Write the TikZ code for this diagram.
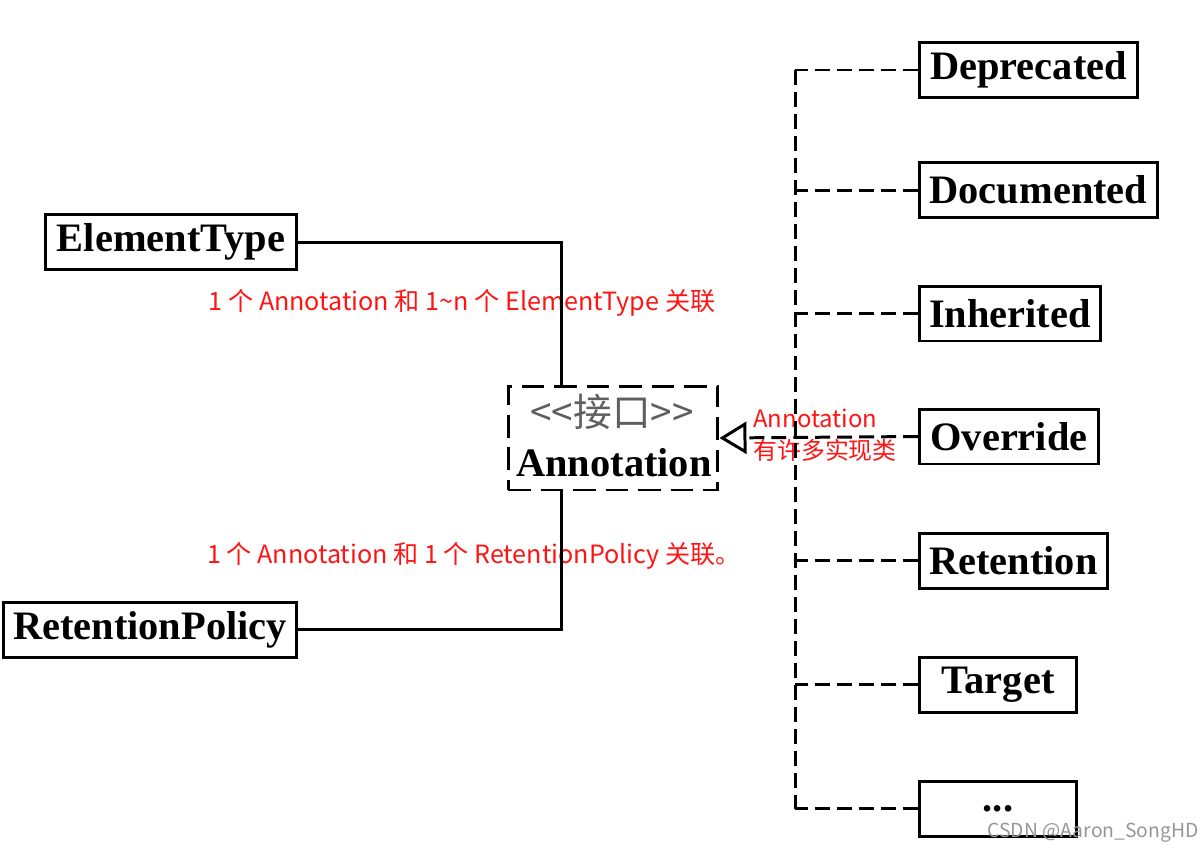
\documentclass[tikz,border=0pt]{standalone}
\usepackage{fontspec}
\setmainfont{Liberation Serif}
\newfontfamily\cjk{Noto Sans CJK SC}
\usetikzlibrary{arrows.meta}
\definecolor{notered}{RGB}{255,20,20}
\definecolor{stereogray}{RGB}{95,95,95}
\definecolor{markgray}{RGB}{150,150,150}

\begin{document}
\begin{tikzpicture}[x=0.02cm, y=-0.02cm,
    classbox/.style={draw, line width=1.7pt, minimum height=1.1cm, inner sep=0pt,
      font=\fontsize{23}{23}\selectfont\bfseries},
    ifacebox/.style={draw, line width=1.7pt, dash pattern=on 13pt off 5.5pt,
      minimum width=4.2cm, minimum height=2.08cm},
    assoc/.style={line width=1.7pt},
    bus/.style={line width=1.7pt, dash pattern=on 8.5pt off 4pt},
    realize/.style={bus, -{Triangle[open, length=0.54cm, width=0.64cm]}},
    note/.style={text=notered, inner sep=0pt, font=\cjk\fontsize{14.3}{17}\selectfont},
    stereo/.style={text=stereogray, inner sep=0pt, font=\cjk\fontsize{22}{22}\selectfont},
    wmark/.style={text=markgray, inner sep=0pt, font=\cjk\fontsize{11}{11}\selectfont}]
  \useasboundingbox (0,0) rectangle (1200,853);

  \node[classbox, anchor=east, minimum width=5.02cm] (etype) at (298,242) {ElementType};
  \node[classbox, anchor=east, minimum width=5.86cm] (rpolicy) at (298,629.5) {RetentionPolicy};

  \node[ifacebox] (anno) at (613,438) {};
  \node[stereo] (anno-st) at (612,412) {<<接口>>};
  \node[inner sep=0pt, font=\fontsize{23}{23}\selectfont\bfseries] (anno-name) at (614,463) {Annotation};

  \node[classbox, anchor=west, minimum width=4.36cm] (depr) at (918,70) {Deprecated};
  \node[classbox, anchor=west, minimum width=4.76cm] (docu) at (918,190) {Documented};
  \node[classbox, anchor=west, minimum width=3.62cm] (inhe) at (918,313.5) {Inherited};
  \node[classbox, anchor=west, minimum width=3.58cm] (over) at (918,436.5) {Override};
  \node[classbox, anchor=west, minimum width=3.76cm] (rete) at (918,560.5) {Retention};
  \node[classbox, anchor=west, minimum width=3.14cm] (targ) at (918,684.5) {Target};
  \node[classbox, anchor=west, minimum width=3.14cm] (more) at (918,808.5) {...};

  \node[note] (lbl-et) at (462,303) {1 个 Annotation 和 1\textasciitilde n 个 ElementType 关联};
  \node[note] (lbl-rp) at (474,556) {1 个 Annotation 和 1 个 RetentionPolicy 关联。};
  \node[note, anchor=north west, align=left, font=\cjk\fontsize{13.6}{18}\selectfont]
    (lbl-impl) at (753,409) {Annotation\\有许多实现类};

  \draw[assoc] (etype.east) -| ([xshift=-1.04cm]anno.north);
  \draw[assoc] (rpolicy.east) -| ([xshift=-1.04cm]anno.south);

  \coordinate (bus top) at (795,70);
  \coordinate (bus end) at (795,808.5);
  \draw[bus] (bus top) -- (bus end);
  \foreach \b in {depr,docu,inhe,rete,targ,more}
    \draw[bus] (\b.west) -- (\b.west -| bus top);
  \draw[realize] (over.west) -- (anno.east);

  \node[wmark] (csdn) at (1093,833) {CSDN @Aaron\_SongHD};
\end{tikzpicture}
\end{document}
